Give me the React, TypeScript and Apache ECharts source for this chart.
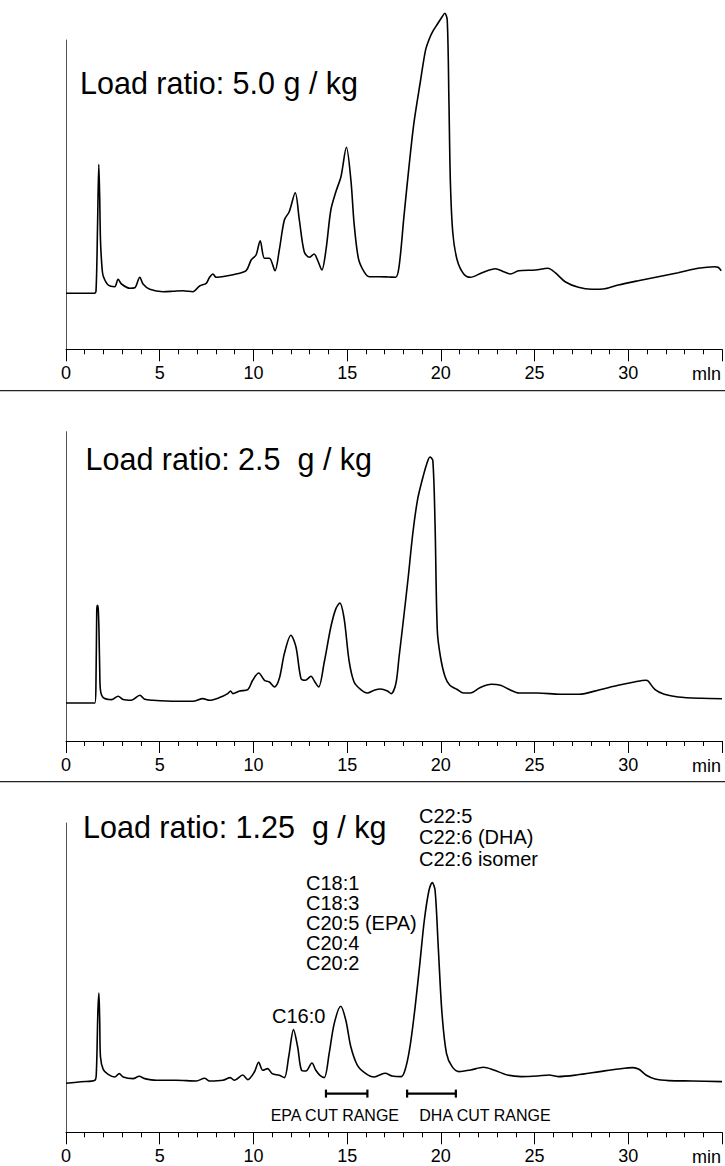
import { useEffect, useRef } from "react";
import * as echarts from "echarts";

// Chromatograms of a fish-oil fraction at three column load ratios.
const loadRatioTitles = [
  "Load ratio: 5.0 g / kg",
  "Load ratio: 2.5  g / kg",
  "Load ratio: 1.25  g / kg",
];
const timeUnitLabels = ["mln", "min", "min"];

// Retention time axis (min)
const timeMin = 0;
const timeMax = 35;
const timeStep = 5;

// [retention time (min), detector signal]
const traceLoad50: [number, number][] = [
  [0, 56], [1.0, 56], [1.5, 56], [1.6, 58], [1.68, 120], [1.75, 185], [1.8, 150], [1.84, 109],
  [1.92, 82], [1.99, 73], [2.25, 64.3], [2.6, 62.6], [2.78, 70], [2.96, 65.3], [3.4, 61],
  [3.67, 61.5], [3.94, 72], [4.11, 65.3], [4.47, 60], [5.18, 57.6], [5.7, 58], [6.24, 58.6],
  [6.77, 57.6], [7.13, 63.3], [7.48, 66], [7.66, 72], [7.84, 75.3], [8.01, 72], [8.55, 73.3],
  [9.08, 75.3], [9.61, 78.6], [9.88, 89.3], [10.14, 94.3], [10.36, 108.6], [10.59, 91],
  [10.85, 91], [11.15, 78.6], [11.38, 99.3], [11.65, 129.3], [11.91, 137.6], [12.23, 156.6],
  [12.45, 129.3], [12.71, 97.6], [12.98, 92], [13.24, 95.3], [13.42, 89.3], [13.65, 79.3],
  [13.87, 99.3], [14.13, 139.3], [14.4, 157.6], [14.67, 172.6], [14.96, 202], [15.2, 169.3],
  [15.37, 126], [15.6, 91], [15.9, 77.6], [16.17, 72.6], [16.7, 72.6], [17.2, 72.3],
  [17.59, 72], [17.77, 82.6], [18.03, 132.6], [18.3, 182.6], [18.56, 226], [18.92, 269.3],
  [19.18, 299], [19.36, 309.3], [19.54, 317], [19.81, 325], [20.07, 332.6], [20.21, 336],
  [20.34, 329.3], [20.43, 249.3], [20.51, 166], [20.64, 116], [20.87, 89.3], [21.22, 75.3],
  [21.58, 72], [22.2, 76.6], [22.91, 80.6], [23.35, 77.6], [23.71, 75.3], [24.15, 78.6],
  [25.04, 79.3], [25.71, 81], [26.1, 76.6], [26.63, 67.6], [27.34, 62], [28.05, 60],
  [28.76, 60.6], [29.47, 64.3], [30.53, 68.6], [31.6, 72.6], [32.66, 76.6], [33.72, 81],
  [34.61, 82.6], [34.79, 82], [34.96, 78.6],
];

const traceLoad25: [number, number][] = [
  [0, 38], [1.0, 38], [1.54, 38], [1.6, 60], [1.64, 130], [1.67, 135.7], [1.72, 132],
  [1.76, 110], [1.8, 70], [1.84, 50.7], [1.99, 43.4], [2.43, 41.4], [2.78, 44.7], [3.05, 41.4],
  [3.49, 40.7], [3.94, 45.7], [4.2, 41.7], [4.64, 40.7], [5.89, 39.7], [6.77, 39.7], [7.3, 42.4],
  [7.66, 40.7], [8.19, 43.4], [8.63, 47.4], [8.78, 50], [8.9, 47.4], [9.26, 50], [9.7, 51.4],
  [9.96, 60.7], [10.28, 68], [10.59, 60.7], [10.85, 59], [11.12, 54], [11.38, 62.4],
  [11.65, 87.4], [12.0, 105.7], [12.27, 94], [12.54, 62.4], [12.77, 60.7], [13.07, 64.7],
  [13.28, 59], [13.48, 54], [13.78, 79], [14.13, 114], [14.4, 132.4], [14.61, 138],
  [14.84, 122.4], [15.1, 80.7], [15.37, 59], [15.73, 51.4], [16.08, 48], [16.44, 50.7],
  [16.78, 52], [17.15, 50], [17.35, 47.3], [17.6, 57.3], [17.77, 84], [18.02, 124],
  [18.26, 164], [18.5, 207], [18.75, 240.7], [19.0, 260.7], [19.25, 277.3], [19.42, 284],
  [19.57, 280.7], [19.69, 217], [19.81, 110.7], [19.98, 84], [20.23, 64], [20.48, 55.7],
  [20.85, 51.7], [21.22, 48], [21.58, 48], [22.08, 53.3], [22.69, 56.7], [23.18, 55.7],
  [23.68, 51.3], [24.17, 48], [25.15, 48], [26.38, 46.7], [27.37, 46.7], [28.48, 51.3],
  [29.46, 55.7], [30.32, 59], [30.94, 60.7], [31.06, 60], [31.43, 51.3], [31.92, 46.7],
  [32.66, 44], [33.9, 42.7], [35, 42.3],
];

const traceLoad125: [number, number][] = [
  [0, 49], [0.8, 50.5], [1.54, 52], [1.62, 60], [1.7, 120], [1.755, 139.3], [1.8, 110],
  [1.84, 75.3], [1.99, 62.7], [2.25, 58], [2.6, 55.3], [2.84, 58.7], [3.05, 55.3], [3.58, 53.7],
  [3.9, 56], [4.2, 53.7], [4.82, 52], [5.89, 52], [6.95, 51.3], [7.39, 54], [7.66, 51.3],
  [8.37, 52], [8.76, 54.7], [8.99, 52], [9.43, 57.3], [9.7, 52.7], [10.05, 60.3], [10.28, 70],
  [10.5, 62], [10.76, 63.7], [11.0, 58.7], [11.38, 57], [11.65, 54.7], [11.88, 75.3],
  [12.14, 102.7], [12.36, 85.3], [12.57, 62], [12.8, 61.3], [13.12, 69.3], [13.33, 62],
  [13.55, 57], [13.78, 54.7], [14.04, 78.7], [14.31, 108.7], [14.66, 126], [14.93, 112],
  [15.2, 85.3], [15.55, 67], [16.0, 58.7], [16.44, 55.3], [16.7, 57], [17.03, 59], [17.4, 56.3],
  [17.89, 55.7], [18.14, 65.7], [18.38, 89], [18.63, 125.7], [18.88, 169], [19.12, 212.3],
  [19.37, 242.3], [19.54, 249.7], [19.69, 242.3], [19.86, 185.7], [20.06, 119], [20.3, 79],
  [20.6, 65.7], [20.97, 60.7], [21.58, 62.3], [22.27, 65], [22.82, 62.3], [23.55, 57.3],
  [24.29, 55.7], [25.15, 56.3], [25.77, 57.3], [26.26, 55.7], [27.24, 57.3], [28.48, 60.7],
  [29.46, 63.3], [30.25, 64.7], [30.57, 63], [30.94, 57.3], [31.43, 53.3], [32.17, 51.7],
  [33.4, 51.3], [35, 50.7],
];

// Peak assignments for the 1.25 g / kg run
const dhaPeakLabels = ["C22:5", "C22:6 (DHA)", "C22:6 isomer"];
const epaPeakLabels = ["C18:1", "C18:3", "C20:5 (EPA)", "C20:4", "C20:2"];
const palmiticLabel = "C16:0";

// Fraction cut windows (min)
const cutRangeNames = ["EPA CUT RANGE", "DHA CUT RANGE"];
const cutRangeStarts = [13.87, 18.2];
const cutRangeEnds = [16.08, 20.8];
const cutBarLevel = 38.7;

const FONT = "'Liberation Sans', Arial, Helvetica, sans-serif";
const W = 725;
const H = 1166;
const PLOT_LEFT = 66;
const PLOT_RIGHT = 1;
const PLOT_HEIGHT = 309.3;
const PANEL_TOPS = [40, 431.7, 823];
const SIGNAL_MAX = 309.3;

export default function App() {
  const ref = useRef<HTMLDivElement>(null);

  useEffect(() => {
    if (!ref.current) return;
    const chart = echarts.init(ref.current, undefined, { renderer: "svg", width: W, height: H });

    const traces = [traceLoad50, traceLoad25, traceLoad125];

    const grids = PANEL_TOPS.map((top) => ({
      left: PLOT_LEFT,
      right: PLOT_RIGHT,
      top,
      height: PLOT_HEIGHT,
      containLabel: false,
    }));

    const xAxes = PANEL_TOPS.map((_, i) => ({
      type: "value",
      gridIndex: i,
      min: timeMin,
      max: timeMax,
      interval: timeStep,
      axisLine: { show: true, onZero: false, lineStyle: { color: "#000", width: 1 } },
      axisTick: { show: true, length: 12, lineStyle: { color: "#000", width: 1 } },
      minorTick: { show: true, splitNumber: 5, length: 5, lineStyle: { color: "#000", width: 1 } },
      splitLine: { show: false },
      minorSplitLine: { show: false },
      axisLabel: {
        show: true,
        margin: 15,
        fontSize: 18,
        fontFamily: FONT,
        color: "#000",
        formatter: (v: number) => (v >= timeMax ? "" : String(v)),
      },
    }));

    const yAxes = PANEL_TOPS.map((_, i) => ({
      type: "value",
      gridIndex: i,
      min: 0,
      max: SIGNAL_MAX,
      axisLine: { show: true, lineStyle: { color: "#555", width: 1 } },
      axisTick: { show: false },
      axisLabel: { show: false },
      splitLine: { show: false },
    }));

    const lineSeries = traces.map((data, i) => ({
      type: "line",
      xAxisIndex: i,
      yAxisIndex: i,
      data,
      showSymbol: false,
      symbol: "none",
      smooth: 0.3,
      clip: false,
      silent: true,
      lineStyle: { color: "#000", width: 1.6 },
    }));

    const cutSeries = {
      type: "custom",
      xAxisIndex: 2,
      yAxisIndex: 2,
      silent: true,
      clip: false,
      encode: { x: [0, 1], y: 2 },
      data: cutRangeStarts.map((s, i) => [s, cutRangeEnds[i], cutBarLevel]),
      renderItem: (_params: any, api: any) => {
        const a = api.coord([api.value(0), api.value(2)]);
        const b = api.coord([api.value(1), api.value(2)]);
        const cap = 4;
        const style = { stroke: "#000", lineWidth: 2.2 };
        return {
          type: "group",
          children: [
            { type: "line", shape: { x1: a[0], y1: a[1], x2: b[0], y2: b[1] }, style },
            { type: "line", shape: { x1: a[0], y1: a[1] - cap, x2: a[0], y2: a[1] + cap }, style },
            { type: "line", shape: { x1: b[0], y1: b[1] - cap, x2: b[0], y2: b[1] + cap }, style },
          ],
        };
      },
    };

    const text = (t: string, x: number, y: number, size: number, align = "left") => ({
      type: "text",
      x,
      y,
      silent: true,
      style: {
        text: t,
        fill: "#000",
        font: `${size}px ${FONT}`,
        align,
        verticalAlign: "middle",
      },
    });

    const titlePos = [
      [80, 82.5],
      [85.5, 458.8],
      [83, 827],
    ];
    const graphics: any[] = [];
    loadRatioTitles.forEach((t, i) => graphics.push(text(t, titlePos[i][0], titlePos[i][1], 30.5)));
    timeUnitLabels.forEach((t, i) =>
      graphics.push(text(t, 721, PANEL_TOPS[i] + PLOT_HEIGHT + 24.5, 18, "right"))
    );
    // panel separators
    [390.7, 781.7].forEach((y) =>
      graphics.push({
        type: "line",
        silent: true,
        shape: { x1: 0, y1: y, x2: W, y2: y },
        style: { stroke: "#222", lineWidth: 1.2 },
      })
    );
    dhaPeakLabels.forEach((t, i) => graphics.push(text(t, 419, 816 + i * 21.3, 20)));
    epaPeakLabels.forEach((t, i) => graphics.push(text(t, 306, 883.3 + i * 20, 20)));
    graphics.push(text(palmiticLabel, 272, 1016.3, 20));
    const cutLabelX = [270.7, 419.3];
    cutRangeNames.forEach((t, i) => graphics.push(text(t, cutLabelX[i], 1115.7, 16)));

    chart.setOption({
      animation: false,
      backgroundColor: "#fff",
      grid: grids,
      xAxis: xAxes,
      yAxis: yAxes,
      series: [...lineSeries, cutSeries],
      graphic: graphics,
    } as any);

    return () => chart.dispose();
  }, []);

  return (
    <div
      ref={ref}
      style={{ position: "absolute", left: 0, top: 0, width: W, height: H, background: "#fff" }}
    />
  );
}
